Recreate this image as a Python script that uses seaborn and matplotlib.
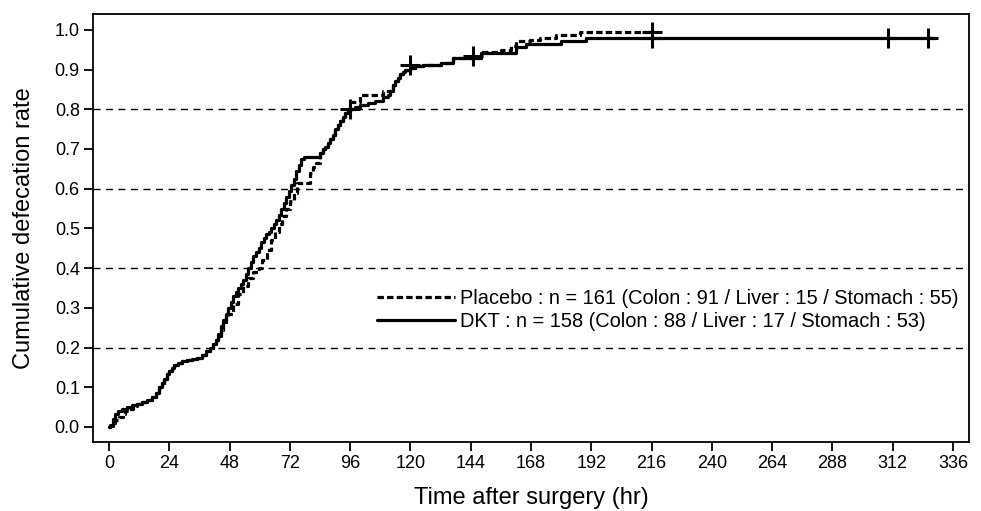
import matplotlib
matplotlib.use("Agg")
import matplotlib.pyplot as plt
import seaborn as sns
import pandas as pd

# DKT group (solid) - cumulative defecation rate (step curve)
dkt_time = [0, 0.5, 1.5, 2.5, 3.5, 5, 7, 9, 11, 13, 15, 17, 18.5, 20, 21, 22, 23, 24, 25, 26,
            27.5, 29, 31, 33, 35, 37, 38.5, 40, 41.5, 42.5, 43.5, 44.5, 45.5, 46.5, 47.5, 48.5,
            49.5, 50.5, 51.5, 52.5, 53.5, 54.5, 55.5, 56.5, 57.5, 58.5, 59.5, 60.5, 61.5, 62.5,
            63.5, 64.5, 65.5, 66.5, 67.5, 68.5, 69.5, 70.5, 71.5, 72.5, 73.5, 74.5, 75.5, 76.5,
            77.5, 84, 85, 86, 87, 88, 89, 90, 91, 92, 93, 94, 95, 96, 98, 100, 103, 106, 109,
            111, 112, 113, 114, 115, 116, 117, 118, 120, 122, 125, 132, 137, 148, 162, 166,
            180, 190, 329]
dkt_rate = [0, 0.006, 0.019, 0.032, 0.04, 0.045, 0.05, 0.055, 0.058, 0.062, 0.068, 0.075, 0.085,
            0.1, 0.11, 0.12, 0.133, 0.14, 0.148, 0.155, 0.16, 0.165, 0.168, 0.17, 0.174, 0.18,
            0.19, 0.2, 0.21, 0.22, 0.235, 0.255, 0.27, 0.285, 0.3, 0.315, 0.33, 0.34, 0.35,
            0.36, 0.37, 0.385, 0.4, 0.415, 0.43, 0.44, 0.45, 0.465, 0.475, 0.485, 0.49, 0.5,
            0.51, 0.52, 0.535, 0.55, 0.565, 0.58, 0.595, 0.61, 0.625, 0.645, 0.66, 0.675, 0.68,
            0.69, 0.7, 0.705, 0.715, 0.725, 0.735, 0.75, 0.76, 0.77, 0.78, 0.79, 0.795, 0.8,
            0.805, 0.81, 0.815, 0.82, 0.83, 0.835, 0.845, 0.86, 0.87, 0.88, 0.89, 0.895, 0.9,
            0.905, 0.91, 0.912, 0.917, 0.929, 0.942, 0.958, 0.964, 0.971, 0.979, 0.979]

# Placebo group (dashed)
pla_time = [0, 0.5, 1.5, 2.5, 4, 5.5, 6.5, 8, 9.5, 11, 13, 15, 17, 18.5, 20, 21, 22, 23, 24, 25,
            26, 27.5, 29, 31, 33, 35, 37, 38.5, 40, 41.5, 42.5, 43.5, 44.5, 45.5, 46.5, 47.5,
            49.5, 51.5, 53.5, 55.5, 57.5, 59.5, 61, 62.8, 64.5, 66, 67.5, 69, 70.5, 72, 73.5,
            74.7, 80, 81, 82.5, 84, 85, 86, 87, 88, 89, 90, 91, 92, 93, 94, 96, 100, 109, 113,
            114, 115, 116, 117, 118, 120, 122, 125, 132, 137, 148, 156, 160, 162, 167.6, 171.6,
            178, 187.5, 216]
pla_rate = [0, 0.003, 0.01, 0.018, 0.025, 0.032, 0.039, 0.045, 0.052, 0.057, 0.062, 0.068, 0.075,
            0.085, 0.1, 0.11, 0.12, 0.133, 0.14, 0.148, 0.155, 0.16, 0.165, 0.168, 0.17, 0.174,
            0.18, 0.19, 0.2, 0.21, 0.22, 0.23, 0.245, 0.26, 0.275, 0.285, 0.31, 0.335, 0.355,
            0.375, 0.39, 0.4, 0.42, 0.446, 0.47, 0.49, 0.51, 0.53, 0.55, 0.57, 0.59, 0.614, 0.64,
            0.655, 0.665, 0.69, 0.7, 0.705, 0.715, 0.725, 0.735, 0.75, 0.76, 0.77, 0.78, 0.79,
            0.819, 0.836, 0.845, 0.86, 0.87, 0.88, 0.89, 0.895, 0.9, 0.905, 0.91, 0.912, 0.917,
            0.929, 0.945, 0.95, 0.96, 0.971, 0.975, 0.979, 0.987, 0.995, 0.995]

# censored observations
dkt_cens_time = [96, 145, 216, 310, 326]
dkt_cens_rate = [0.80, 0.933, 0.979, 0.979, 0.979]
pla_cens_time = [120, 216]
pla_cens_rate = [0.912, 0.995]

ref_lines = [0.2, 0.4, 0.6, 0.8]
x_ticks = list(range(0, 337, 24))
y_ticks = [i / 10 for i in range(11)]

pla_label = "Placebo : n = 161 (Colon : 91 / Liver : 15 / Stomach : 55)"
dkt_label = "DKT : n = 158 (Colon : 88 / Liver : 17 / Stomach : 53)"

sns.set_style("white")
plt.rcParams["font.family"] = ["Liberation Sans", "DejaVu Sans"]
plt.rcParams["text.color"] = "black"
plt.rcParams["axes.labelcolor"] = "black"

fig = plt.figure(figsize=(9.81, 5.11), dpi=100)
ax = fig.add_axes([0.0948, 0.135, 0.893, 0.8376])

for y in ref_lines:
    ax.axhline(y, color="black", linewidth=1, linestyle=(0, (5, 4)), zorder=1)

df_pla = pd.DataFrame({"time": pla_time, "rate": pla_rate})
df_dkt = pd.DataFrame({"time": dkt_time, "rate": dkt_rate})

sns.lineplot(data=df_pla, x="time", y="rate", ax=ax, estimator=None, drawstyle="steps-post",
             color="black", linewidth=2.3, linestyle=(0, (2, 1)), label=pla_label, zorder=3)
sns.lineplot(data=df_dkt, x="time", y="rate", ax=ax, estimator=None, drawstyle="steps-post",
             color="black", linewidth=2.3, label=dkt_label, zorder=3)

sns.scatterplot(x=dkt_cens_time, y=dkt_cens_rate, ax=ax, marker="+", s=220, color="black",
                linewidth=2.2, zorder=4)
sns.scatterplot(x=pla_cens_time, y=pla_cens_rate, ax=ax, marker="+", s=220, color="black",
                linewidth=2.2, zorder=4)

ax.set_xlim(-6.4, 342.4)
ax.set_ylim(-0.038, 1.040)
ax.set_xticks(x_ticks)
ax.set_yticks(y_ticks)
ax.set_yticklabels([f"{v:.1f}" for v in y_ticks])
ax.tick_params(axis="both", direction="out", length=6.5, width=1.3, labelsize=13,
               bottom=True, left=True, colors="black", pad=3)
for s in ax.spines.values():
    s.set_color("black")
    s.set_linewidth(1.3)

ax.set_xlabel("Time after surgery (hr)", fontsize=17, labelpad=11, color="black")
ax.set_ylabel("Cumulative defecation rate", fontsize=17, labelpad=14, color="black")

leg = ax.legend(loc="upper left", bbox_to_anchor=(0.315, 0.376), frameon=False, fontsize=14.4,
                handlelength=3.9, handletextpad=0.25, labelspacing=0.2, borderaxespad=0)
for t in leg.get_texts():
    t.set_color("black")

fig.savefig("out.png", dpi=100)
